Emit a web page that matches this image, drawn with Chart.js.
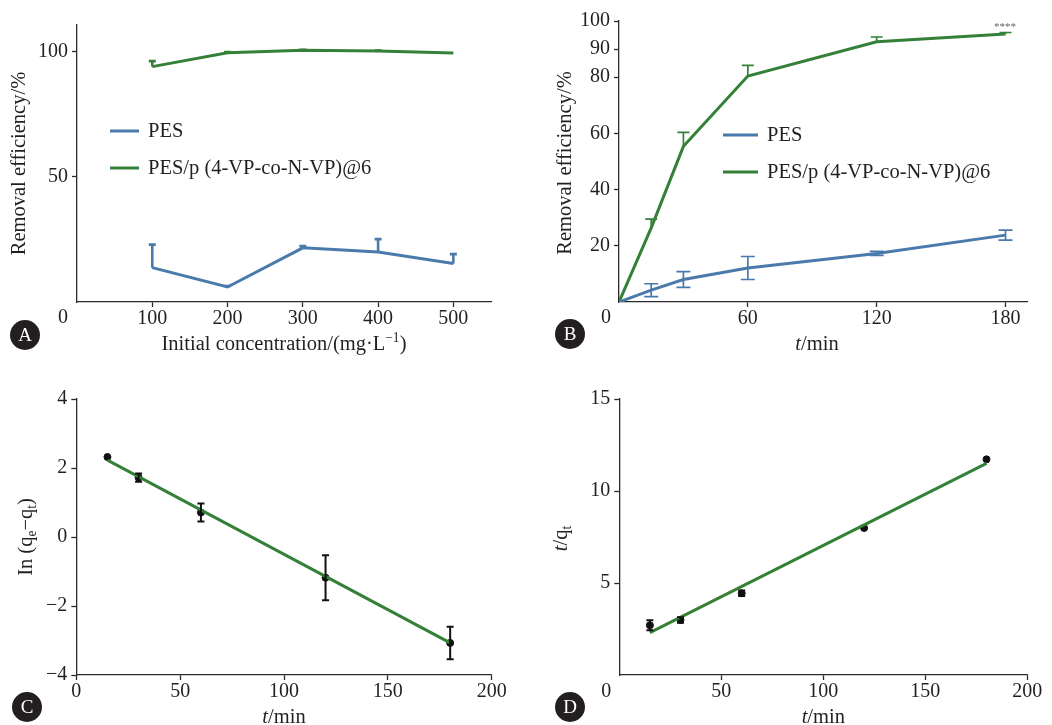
<!DOCTYPE html>
<html>
<head>
<meta charset="utf-8">
<script src="https://cdn.jsdelivr.net/npm/chart.js@4.4.0/dist/chart.umd.min.js"></script>
<style>
    html, body { margin: 0; padding: 0; background: #fff; }
    body { width: 1052px; height: 725px; position: relative; overflow: hidden; }
    .panel { position: absolute; }
</style>
</head>
<body>
<div class="panel" style="left:0;top:0;width:520px;height:360px"><canvas id="chart-a"></canvas></div>
<div class="panel" style="left:520px;top:0;width:532px;height:360px"><canvas id="chart-b"></canvas></div>
<div class="panel" style="left:0;top:380px;width:520px;height:345px"><canvas id="chart-c"></canvas></div>
<div class="panel" style="left:520px;top:380px;width:532px;height:345px"><canvas id="chart-d"></canvas></div>
<script>
// A: removal efficiency vs initial concentration
const concA = [100, 200, 300, 400, 500];
const pesA = [13.7, 6.0, 21.6, 19.9, 15.4];
const pesAErr = [9.2, 0.4, 0.7, 5.2, 3.7];
const copoA = [93.9, 99.4, 100.4, 100.1, 99.3];
const copoAErr = [2.2, 0.3, 0.2, 0.2, 0];
const xTicksA = [100, 200, 300, 400, 500];
const yTicksA = [50, 100];

// B: removal efficiency vs time
const timeB = [0, 15, 30, 60, 120, 180];
const pesB = [0, 4.2, 8.0, 12.1, 17.3, 23.8];
const pesBErr = [0, 2.3, 2.8, 4.1, 0.7, 1.8];
const copoB = [0, 26.4, 55.4, 80.4, 92.6, 95.4];
const copoBErr = [0, 3.1, 5.0, 3.8, 1.7, 0.5];
const xTicksB = [60, 120, 180];
const yTicksB = [20, 40, 60, 80, 90, 100];
const signifB = '****';

// C: ln(qe - qt) vs time, with linear fit
const timeC = [15, 30, 60, 120, 180];
const lnC = [2.32, 1.72, 0.71, -1.18, -3.07];
const lnCErr = [0, 0.12, 0.26, 0.65, 0.47];
const fitTimeC = [15, 180];
const fitLnC = [2.23, -3.07];
const xTicksC = [0, 50, 100, 150, 200];
const yTicksC = [-4, -2, 0, 2, 4];

// D: t/qt vs time, with linear fit
const timeD = [15, 30, 60, 120, 180];
const tqD = [2.70, 2.99, 4.44, 7.99, 11.72];
const tqDErr = [0.27, 0.15, 0.15, 0, 0];
const fitTimeD = [15, 180];
const fitTqD = [2.3, 11.5];
const xTicksD = [50, 100, 150, 200];
const yTicksD = [5, 10, 15];

const seriesNames = ['PES', 'PES/p (4-VP-co-N-VP)@6'];

const SERIF = "'Liberation Serif', 'DejaVu Serif', serif";
const TEXT = '#231f20';
const AXIS = '#2b2b2b';
const BLUE = '#4a7aab';
const GREEN = '#358038';
const TICK_SIZE = 20;
const TITLE_SIZE = 20.5;
const LEGEND_SIZE = 20.5;

const pts = (xs, ys) => xs.map((x, i) => ({ x, y: ys[i] }));
const fmt = v => (v < 0 ? '\u2212' + Math.abs(v) : String(v));

function drawRich(ctx, segs, cx, cy, rot, size) {
    ctx.save();
    ctx.translate(cx, cy);
    ctx.rotate(rot);
    ctx.fillStyle = TEXT;
    ctx.textBaseline = 'alphabetic';
    ctx.textAlign = 'left';
    const parts = segs.map(s => {
        const sz = (s.sub || s.sup) ? size * 0.66 : size;
        const font = (s.i ? 'italic ' : '') + sz + 'px ' + SERIF;
        ctx.font = font;
        return { s, font, w: ctx.measureText(s.t).width, dy: s.sub ? size * 0.22 : s.sup ? -size * 0.38 : 0 };
    });
    const total = parts.reduce((a, p) => a + p.w, 0);
    let x = -total / 2;
    const base = size * 0.33;
    parts.forEach(p => {
        ctx.font = p.font;
        ctx.fillText(p.s.t, x, base + p.dy);
        x += p.w;
    });
    ctx.restore();
}

function decor(cfg) {
    return {
        id: 'decor',
        afterDatasetsDraw(chart) {
            const ctx = chart.ctx, xs = chart.scales.x, ys = chart.scales.y;
            chart.data.datasets.forEach(ds => {
                if (!ds.err) return;
                ctx.save();
                ctx.strokeStyle = ds.errColor || ds.borderColor;
                ctx.lineWidth = ds.errWidth;
                ds.data.forEach((p, i) => {
                    const e = ds.err[i];
                    if (!e) return;
                    const px = xs.getPixelForValue(p.x);
                    const top = ys.getPixelForValue(p.y + e);
                    const bot = ys.getPixelForValue(ds.errBoth ? p.y - e : p.y);
                    ctx.beginPath();
                    ctx.moveTo(px, top); ctx.lineTo(px, bot);
                    ctx.moveTo(px - ds.cap, top); ctx.lineTo(px + ds.cap, top);
                    if (ds.errBoth) { ctx.moveTo(px - ds.cap, bot); ctx.lineTo(px + ds.cap, bot); }
                    ctx.stroke();
                });
                ctx.restore();
            });
        },
        afterDraw(chart) {
            const ctx = chart.ctx, a = chart.chartArea;
            drawRich(ctx, cfg.yTitle, cfg.yTitleX, (a.top + a.bottom) / 2 + (cfg.yTitleDy || 0), -Math.PI / 2, TITLE_SIZE);
            drawRich(ctx, cfg.xTitle, (a.left + a.right) / 2 + (cfg.xTitleDx || 0), cfg.xTitleY, 0, TITLE_SIZE);

            ctx.save();
            ctx.fillStyle = TEXT;
            ctx.textAlign = 'center';
            ctx.textBaseline = 'middle';
            ctx.font = TICK_SIZE + 'px ' + SERIF;
            if (cfg.origin) ctx.fillText('0', a.left + cfg.origin[0], a.bottom + cfg.origin[1]);

            if (cfg.legend) {
                const L = cfg.legend;
                chart.data.datasets.filter(ds => ds.inLegend).forEach((ds, i) => {
                    const y = L.y + i * L.dy;
                    ctx.strokeStyle = ds.borderColor;
                    ctx.lineWidth = 3;
                    ctx.beginPath();
                    ctx.moveTo(L.x, y); ctx.lineTo(L.x + L.len, y);
                    ctx.stroke();
                    ctx.textAlign = 'left';
                    ctx.font = LEGEND_SIZE + 'px ' + SERIF;
                    ctx.fillText(ds.label, L.x + L.len + L.gap, y + 1);
                });
            }

            if (cfg.note) {
                ctx.fillStyle = '#666';
                ctx.textAlign = 'center';
                ctx.font = '11px ' + SERIF;
                ctx.fillText(cfg.note.t, cfg.note.x, cfg.note.y);
            }

            const b = cfg.badge;
            ctx.fillStyle = '#231f20';
            ctx.beginPath();
            ctx.arc(b.x, b.y, 15, 0, Math.PI * 2);
            ctx.fill();
            ctx.fillStyle = '#fff';
            ctx.textAlign = 'center';
            ctx.font = '19px ' + SERIF;
            ctx.fillText(b.t, b.x, b.y + 1);
            ctx.restore();
        }
    };
}

function axis(tickList, min, max, size, isX) {
    return {
        type: 'linear',
        min, max,
        afterBuildTicks: s => { s.ticks = tickList.map(v => ({ value: v })); },
        afterFit: s => { if (isX) s.height = size; else s.width = size; },
        border: { display: true, color: AXIS, width: 1.3 },
        grid: { display: true, drawOnChartArea: false, drawTicks: true, tickLength: 5, tickColor: AXIS, tickWidth: 1.3 },
        ticks: { color: TEXT, font: { family: SERIF, size: TICK_SIZE }, padding: isX ? 0 : 4, maxRotation: 0, autoSkip: false, callback: fmt },
        title: { display: false },
    };
}

function lineSet(label, xs, ys, color, errs, opts) {
    return Object.assign({
        label,
        data: pts(xs, ys),
        showLine: true,
        borderColor: color,
        backgroundColor: color,
        borderWidth: 3,
        pointRadius: 0,
        err: errs,
        errWidth: 2,
        cap: 4,
        inLegend: true,
    }, opts || {});
}

function makeChart(id, datasets, scales, padding, cfg) {
    return new Chart(document.getElementById(id), {
        type: 'scatter',
        data: { datasets },
        options: {
            responsive: true,
            maintainAspectRatio: false,
            animation: false,
            layout: { padding },
            plugins: { legend: { display: false }, tooltip: { enabled: false } },
            scales,
        },
        plugins: [decor(cfg)],
    });
}

const tMin = [{ t: 't', i: true }, { t: '/min' }];
const removal = [{ t: 'Removal efficiency/%' }];

makeChart('chart-a', [
    lineSet(seriesNames[0], concA, pesA, BLUE, pesAErr, { errWidth: 2.6, cap: 3.5 }),
    lineSet(seriesNames[1], concA, copoA, GREEN, copoAErr, { errWidth: 2.6, cap: 3.5 }),
], {
    x: axis(xTicksA, 0, 550, 58, true),
    y: axis(yTicksA, 0, 110.5, 77, false),
}, { left: 0, top: 25, right: 29, bottom: 0 }, {
    yTitle: removal, yTitleX: 18,
    xTitle: [{ t: 'Initial concentration/(mg\u00b7L' }, { t: '\u22121', sup: true }, { t: ')' }], xTitleY: 343,
    origin: [-14, 16],
    legend: { x: 110, y: 131, dy: 37, len: 29, gap: 9 },
    badge: { x: 25, y: 335, t: 'A' },
});

makeChart('chart-b', [
    lineSet(seriesNames[0], timeB, pesB, BLUE, pesBErr, { errBoth: true, errWidth: 1.7, cap: 7 }),
    lineSet(seriesNames[1], timeB, copoB, GREEN, copoBErr, { errWidth: 1.7, cap: 6 }),
], {
    x: axis(xTicksB, 0, 190, 58, true),
    y: axis(yTicksB, 0, 100, 99, false),
}, { left: 0, top: 21, right: 25, bottom: 0 }, {
    yTitle: removal, yTitleX: 44, yTitleDy: 1.5,
    xTitle: tMin, xTitleY: 343, xTitleDx: -6,
    origin: [-13, 16],
    legend: { x: 203, y: 135, dy: 37, len: 35, gap: 9 },
    note: { t: signifB, x: 485, y: 27 },
    badge: { x: 50, y: 334, t: 'B' },
});

const dots = (xs, ys, errs) => ({
    data: pts(xs, ys),
    showLine: false,
    pointRadius: 3.5,
    pointBackgroundColor: '#111',
    pointBorderColor: '#111',
    borderColor: '#111',
    err: errs,
    errBoth: true,
    errWidth: 2,
    cap: 3.5,
});
const fitLine = (xs, ys) => ({
    data: pts(xs, ys),
    showLine: true,
    borderColor: GREEN,
    borderWidth: 3,
    pointRadius: 0,
});

makeChart('chart-c', [
    fitLine(fitTimeC, fitLnC),
    dots(timeC, lnC, lnCErr),
], {
    x: axis(xTicksC, 0, 200, 50, true),
    y: axis(yTicksC, -4, 4, 76.3, false),
}, { left: 0, top: 19, right: 28.3, bottom: 0 }, {
    yTitle: [{ t: 'In (q' }, { t: 'e', sub: true }, { t: '\u2212q' }, { t: 't', sub: true }, { t: ')' }], yTitleX: 25,
    xTitle: tMin, xTitleY: 336.7,
    badge: { x: 27, y: 327, t: 'C' },
});

makeChart('chart-d', [
    fitLine(fitTimeD, fitTqD),
    dots(timeD, tqD, tqDErr),
], {
    x: axis(xTicksD, 0, 200, 50, true),
    y: axis(yTicksD, 0, 15, 99.3, false),
}, { left: 0, top: 19, right: 24.7, bottom: 0 }, {
    yTitle: [{ t: 't', i: true }, { t: '/q' }, { t: 't', sub: true }], yTitleX: 40, yTitleDy: 1.5,
    xTitle: tMin, xTitleY: 336.7,
    origin: [-13, 17],
    badge: { x: 50, y: 327, t: 'D' },
});
</script>
</body>
</html>
